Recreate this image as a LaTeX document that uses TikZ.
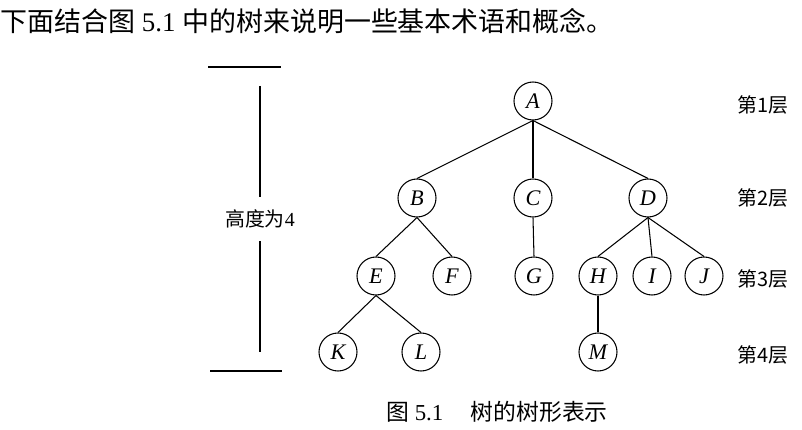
\documentclass[tikz,border=0pt]{standalone}
\usepackage{fontspec}
\setmainfont{Liberation Serif}
\newfontfamily\cjk{Noto Sans CJK SC}
\usepackage{tikz}

\begin{document}
\begin{tikzpicture}[x=0.03cm, y=-0.03cm, line width=0.9pt,
    vertex/.style={draw, circle, minimum size=1.14cm, inner sep=0pt, font=\fontsize{19}{19}\selectfont\itshape},
    level/.style={font=\fontsize{17}{17}\selectfont\cjk}]
    \useasboundingbox (0,0) rectangle (802,430);

    % Intro line
    \node[anchor=west, inner sep=0pt, font=\fontsize{23}{23}\selectfont] (intro) at (0,21)
        {{\cjk 下面结合图} 5.1 {\cjk 中的树来说明一些基本术语和概念。}};

    % Height marker
    \coordinate (hleft) at (208,67);
    \coordinate (hright) at (281,67);
    \coordinate (bleft) at (210,371);
    \coordinate (bright) at (282,371);
    \coordinate (htop) at (260,86);
    \coordinate (hbot) at (260,352);
    \node[font=\fontsize{17}{17}\selectfont, minimum height=1.29cm, inner sep=0pt] (height) at (260,219) {{\cjk 高度为}4};
    \draw (hleft) -- (hright);
    \draw (bleft) -- (bright);
    \draw (htop) -- (height.north);
    \draw (height.south) -- (hbot);

    % Level 1
    \node[vertex] (A) at (533,101) {A};

    % Level 2
    \node[vertex] (B) at (417,198) {B};
    \node[vertex] (C) at (533,198) {C};
    \node[vertex] (D) at (648,198) {D};

    % Level 3
    \node[vertex] (E) at (376,276) {E};
    \node[vertex] (F) at (452,276) {F};
    \node[vertex] (G) at (534,276) {G};
    \node[vertex] (H) at (598,276) {H};
    \node[vertex] (I) at (652,276) {I};
    \node[vertex] (J) at (704,276) {J};

    % Level 4
    \node[vertex] (K) at (338,352) {K};
    \node[vertex] (L) at (421,352) {L};
    \node[vertex] (M) at (598,352) {M};

    % Edges
    \draw (A.south) -- (B.north);
    \draw (A.south) -- (C.north);
    \draw (A.south) -- (D.north);
    \draw (B.south) -- (E.north);
    \draw (B.south) -- (F.north);
    \draw (C.south) -- (G.north);
    \draw (D.south) -- (H.north);
    \draw (D.south) -- (I.north);
    \draw (D.south) -- (J.north);
    \draw (E.south) -- (K.north);
    \draw (E.south) -- (L.north);
    \draw (H.south) -- (M.north);

    % Level labels
    \node[level] (lv1) at (763,105) {第1层};
    \node[level] (lv2) at (763,198) {第2层};
    \node[level] (lv3) at (763,279) {第3层};
    \node[level] (lv4) at (763,355) {第4层};

    % Caption
    \node[font=\fontsize{19.5}{19.5}\selectfont] (caption) at (497,412)
        {{\cjk 图} 5.1\hspace{1.2em}{\cjk 树的树形表示}};
\end{tikzpicture}
\end{document}
